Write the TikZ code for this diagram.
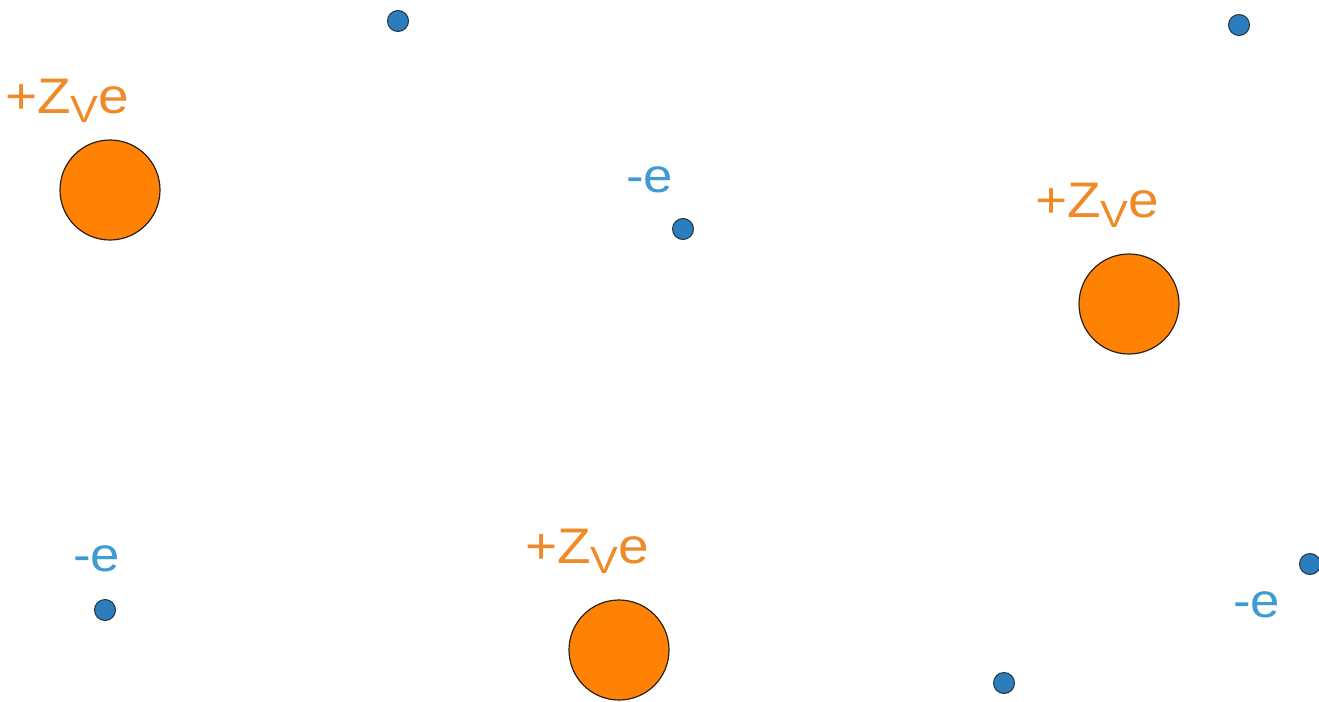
\documentclass[tikz,border=0pt]{standalone}
\usepackage{fontspec}
\setmainfont{Liberation Sans}
\definecolor{ionfill}{HTML}{FF8205}
\definecolor{iontext}{HTML}{F08A28}
\definecolor{elfill}{HTML}{2C7DBE}
\definecolor{eltext}{HTML}{3E9CD2}
\definecolor{edge}{HTML}{2A2015}
\newcommand{\ionlabel}{+Z\raisebox{-0.2em}{\fontsize{38}{38}\selectfont V}e}
\begin{document}
\begin{tikzpicture}[x=1pt,y=-1pt,
  ion/.style={circle,draw=edge,line width=1.2pt,fill=ionfill,minimum size=100pt,inner sep=0pt},
  electron/.style={circle,draw=edge!80!elfill,line width=1pt,fill=elfill,minimum size=21pt,inner sep=0pt},
  ionlab/.style={text=iontext,font=\fontsize{50}{50}\selectfont,inner sep=0pt,xscale=1.1,anchor=base west},
  ellab/.style={text=eltext,font=\fontsize{48}{48}\selectfont,inner sep=0pt,xscale=1.1,anchor=base west}]
\useasboundingbox[fill=white] (0,0) rectangle (1319,701);
% ions
\node[ion] (i1) at (110,190) {};
\node[ion] (i2) at (1129,304) {};
\node[ion] (i3) at (619,650) {};
\node[ionlab] (l1) at (5,113) {\ionlabel};
\node[ionlab] (l2) at (1035,217) {\ionlabel};
\node[ionlab] (l3) at (525,563) {\ionlabel};
% electrons
\node[electron] (e1) at (398,21) {};
\node[electron] (e2) at (1239,25) {};
\node[electron] (e3) at (683,229) {};
\node[electron] (e4) at (105,610) {};
\node[electron] (e5) at (1004,683) {};
\node[electron] (e6) at (1310,564) {};
\node[ellab] (m1) at (626,192) {-e};
\node[ellab] (m2) at (73,571) {-e};
\node[ellab] (m3) at (1233,617) {-e};
\end{tikzpicture}
\end{document}
